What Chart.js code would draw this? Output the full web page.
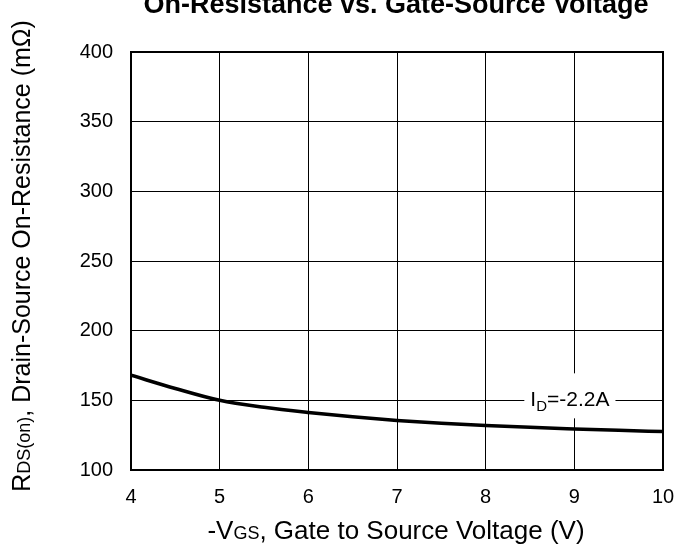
<!DOCTYPE html>
<html>
<head>
<meta charset="utf-8">
<script src="https://cdn.jsdelivr.net/npm/chart.js@4/dist/chart.umd.min.js"></script>
<style>
  html, body { margin: 0; padding: 0; background: #fff; }
  #wrap { width: 692px; height: 556px; }
</style>
</head>
<body>
<div id="wrap"><canvas id="c" width="692" height="556"></canvas></div>
<script>
// Gate-source voltage (V, magnitude) and drain-source on-resistance (mΩ)
const vgs   = [4, 4.5, 5, 5.5, 6, 6.5, 7, 7.5, 8, 8.5, 9, 9.5, 10];
const rdsOn = [168, 158.5, 150, 145, 141.3, 138.2, 135.6, 133.6, 132, 130.6, 129.5, 128.5, 127.6];

const xTicks = [4, 5, 6, 7, 8, 9, 10];
const yTicks = [100, 150, 200, 250, 300, 350, 400];

const seriesLabel = { main: 'I', sub: 'D', rest: '=-2.2A', x: 8.95, y: 150 };

const FONT = '"Liberation Sans", Arial, Helvetica, sans-serif';

// Width of a run of [text, sizePx, dy] pieces
function runsWidth(ctx, runs, weight) {
  let w = 0;
  runs.forEach(([t, size]) => {
    ctx.font = (weight || '') + ' ' + size + 'px ' + FONT;
    w += ctx.measureText(t).width;
  });
  return w;
}

// Draws runs centred on (cx, y), optionally rotated about that point
function drawCentered(ctx, runs, cx, y, weight, angle) {
  const w = runsWidth(ctx, runs, weight);
  ctx.save();
  ctx.translate(cx, y);
  if (angle) ctx.rotate(angle);
  let x = -w / 2;
  runs.forEach(([t, size, dy]) => {
    ctx.font = (weight || '') + ' ' + size + 'px ' + FONT;
    ctx.fillText(t, x, dy || 0);
    x += ctx.measureText(t).width;
  });
  ctx.restore();
  return w;
}

const decorations = {
  id: 'decorations',
  beforeDatasetsDraw(chart) {
    // white box behind the series label, on top of the grid
    const { ctx, scales } = chart;
    const px = scales.x.getPixelForValue(seriesLabel.x);
    const py = scales.y.getPixelForValue(seriesLabel.y);
    const runs = [[seriesLabel.main, 21, 0], [seriesLabel.sub, 15, 5], [seriesLabel.rest, 21, 0]];
    const w = runsWidth(ctx, runs);
    ctx.save();
    ctx.fillStyle = '#fff';
    ctx.fillRect(px - w / 2 - 6, py - 27, w + 12, 45);
    ctx.fillStyle = '#000';
    ctx.textBaseline = 'alphabetic';
    drawCentered(ctx, runs, px, py + 6);
    ctx.restore();
  },
  afterDraw(chart) {
    const { ctx, chartArea: a } = chart;
    ctx.save();
    // plot frame
    ctx.strokeStyle = '#000';
    ctx.lineWidth = 2;
    ctx.strokeRect(a.left, a.top, a.right - a.left, a.bottom - a.top);

    ctx.fillStyle = '#000';
    ctx.textBaseline = 'alphabetic';
    const cx = (a.left + a.right) / 2;

    // chart title
    drawCentered(ctx, [['On-Resistance vs. Gate-Source Voltage', 27, 0]], cx - 1, 13, 'bold');

    // x-axis title
    drawCentered(ctx, [['-V', 26, 0], ['GS', 18, 0], [', Gate to Source Voltage (V)', 26, 0]],
      cx - 1, 539);

    // y-axis title, rotated
    drawCentered(ctx, [['R', 25, 0], ['DS(on)', 18, 0], [', Drain-Source On-Resistance (mΩ)', 25, 0]],
      30, 256, '', -Math.PI / 2);
    ctx.restore();
  }
};

new Chart(document.getElementById('c'), {
  type: 'line',
  data: {
    datasets: [{
      data: vgs.map((v, i) => ({ x: v, y: rdsOn[i] })),
      borderColor: '#000',
      borderWidth: 3.5,
      pointRadius: 0,
      cubicInterpolationMode: 'monotone',
      fill: false
    }]
  },
  options: {
    responsive: false,
    animation: false,
    layout: { padding: { top: 52, right: 29, left: 0, bottom: 0 } },
    plugins: { legend: { display: false }, tooltip: { enabled: false }, title: { display: false } },
    scales: {
      x: {
        type: 'linear',
        min: xTicks[0], max: xTicks[xTicks.length - 1],
        afterFit(s) { s.height = 86; },
        afterBuildTicks(s) { s.ticks = xTicks.map(v => ({ value: v })); },
        grid: { color: '#000', lineWidth: 1, drawTicks: false },
        border: { display: false },
        ticks: { color: '#000', padding: 15, font: { family: FONT, size: 20 }, maxRotation: 0 }
      },
      y: {
        min: yTicks[0], max: yTicks[yTicks.length - 1],
        afterFit(s) { s.width = 131; },
        afterBuildTicks(s) { s.ticks = yTicks.map(v => ({ value: v })); },
        grid: { color: '#000', lineWidth: 1, drawTicks: false },
        border: { display: false },
        ticks: { color: '#000', padding: 18, font: { family: FONT, size: 20 } }
      }
    }
  },
  plugins: [decorations]
});
</script>
</body>
</html>
